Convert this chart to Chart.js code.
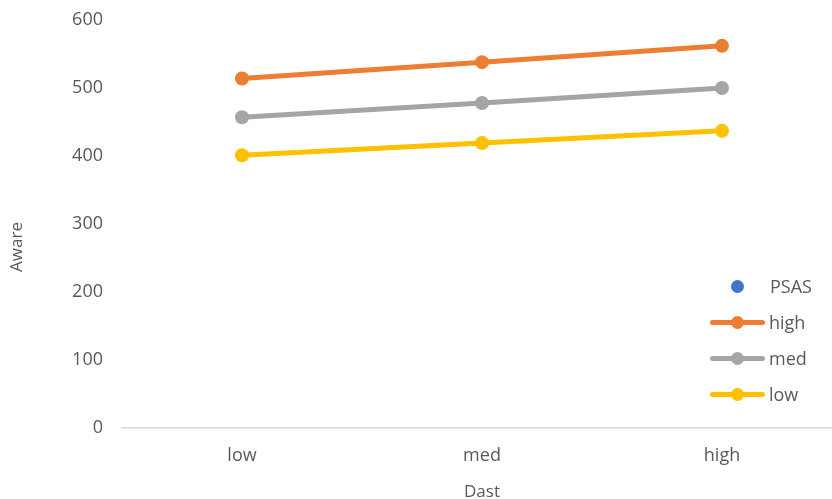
<!DOCTYPE html>
<html>
<head>
<meta charset="utf-8">
<script src="https://cdn.jsdelivr.net/npm/chart.js@4.4.1/dist/chart.umd.min.js"></script>
<style>
  html, body { margin: 0; padding: 0; background: #fff; overflow: hidden; }
  #wrap { position: relative; width: 849px; height: 499px; }
  #legend { position: absolute; left: 706px; top: 274px; font-family: "Open Sans", sans-serif; font-size: 18px; color: #595959; }
  .item { position: relative; height: 36px; }
  .item .ln { position: absolute; left: 4px; top: 10px; width: 55px; height: 5px; border-radius: 3px; }
  .item .dot { position: absolute; left: 25px; top: 6px; width: 13px; height: 13px; border-radius: 50%; }
  .item .tx { position: absolute; left: 63px; top: -1px; line-height: 26px; }
</style>
</head>
<body>
<div id="wrap">
  <canvas id="chart"></canvas>
  <div id="legend"></div>
</div>
<script>
// categories and series
const categories = ['low', 'med', 'high'];
const highValues = [514, 538, 562];
const medValues = [457, 478, 500];
const lowValues = [401, 419, 437];
const psasValues = [];
const yTicks = [0, 100, 200, 300, 400, 500, 600];

const seriesNames = ['PSAS', 'high', 'med', 'low'];
const seriesColors = ['#4472C4', '#ED7D31', '#A5A5A5', '#FFC000'];
const seriesData = [psasValues, highValues, medValues, lowValues];

// y title sits a bit lower than the plot centre in the original, draw it by hand
const yTitlePlugin = {
    id: 'yTitle',
    afterDraw(chart) {
        const c = chart.ctx;
        c.save();
        c.translate(17, 247);
        c.rotate(-Math.PI / 2);
        c.font = '17px "Open Sans"';
        c.fillStyle = '#595959';
        c.textAlign = 'center';
        c.textBaseline = 'middle';
        c.fillText('Aware', 0, 0);
        c.restore();
    }
};

document.addEventListener('DOMContentLoaded', function() {
    const ctx = document.getElementById('chart').getContext('2d');

    const datasets = seriesNames.map((name, i) => ({
        label: name,
        data: seriesData[i],
        borderColor: seriesColors[i],
        backgroundColor: seriesColors[i],
        borderWidth: 5,
        pointRadius: 7,
        pointHoverRadius: 7,
        pointBorderWidth: 0,
        showLine: i > 0,
        tension: 0
    }));

    const chart = new Chart(ctx, {
        type: 'line',
        data: { labels: categories, datasets: datasets },
        plugins: [yTitlePlugin],
        options: {
            responsive: true,
            maintainAspectRatio: false,
            animation: false,
            layout: { padding: { top: 20, right: 0, bottom: 0, left: 4 } },
            plugins: {
                legend: { display: false },
                tooltip: { enabled: false }
            },
            scales: {
                x: {
                    offset: true,
                    grid: { display: false, drawTicks: false },
                    border: { display: true, color: '#D9D9D9', width: 1.5 },
                    ticks: { color: '#595959', font: { family: 'Open Sans', size: 18 }, padding: 17 },
                    title: { display: true, text: 'Dast', color: '#595959', font: { family: 'Open Sans', size: 17 }, padding: { top: 8, bottom: -3 } },
                    afterFit: function(scale) { scale.height = 71; }
                },
                y: {
                    min: 0,
                    max: 600,
                    afterBuildTicks: function(scale) { scale.ticks = yTicks.map(v => ({ value: v })); },
                    grid: { display: false, drawTicks: false },
                    border: { display: false },
                    ticks: { color: '#595959', font: { family: 'Open Sans', size: 18 }, padding: 19 },
                    title: { display: false },
                    afterFit: function(scale) {
                        scale.width = 118;
                        scale.paddingTop = 0;
                        scale.paddingBottom = 0;
                    }
                }
            }
        }
    });

    // html legend, built from the datasets
    const legend = document.getElementById('legend');
    chart.data.datasets.forEach(ds => {
        const item = document.createElement('div');
        item.className = 'item';
        if (ds.showLine) {
            const ln = document.createElement('div');
            ln.className = 'ln';
            ln.style.background = ds.borderColor;
            item.appendChild(ln);
        }
        const dot = document.createElement('div');
        dot.className = 'dot';
        dot.style.background = ds.backgroundColor;
        item.appendChild(dot);
        const tx = document.createElement('div');
        tx.className = 'tx';
        tx.textContent = ds.label;
        if (!ds.showLine) tx.style.left = '64px';
        item.appendChild(tx);
        legend.appendChild(item);
    });
});
</script>
</body>
</html>
